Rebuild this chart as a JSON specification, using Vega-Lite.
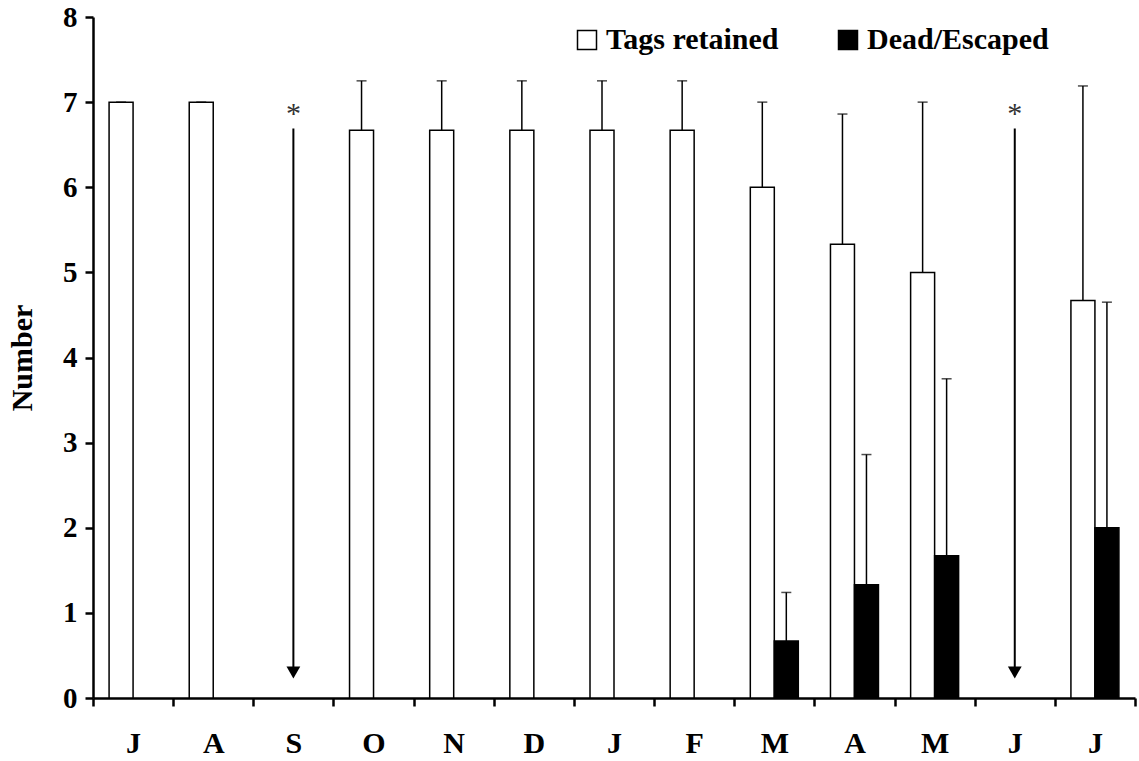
{
  "$schema": "https://vega.github.io/schema/vega-lite/v6.json",
  "width": 1042,
  "height": 681,
  "autosize": {"type": "none"},
  "padding": {"left": 93, "top": 17, "right": 4, "bottom": 63},
  "background": "white",
  "config": {
    "view": {"stroke": null},
    "font": "Liberation Serif",
    "axis": {
      "domainColor": "black",
      "domainWidth": 2.5,
      "tickColor": "black",
      "tickWidth": 2.5,
      "tickSize": 8,
      "labelColor": "black",
      "labelFont": "Liberation Serif",
      "labelFontSize": 29,
      "labelFontWeight": "bold",
      "titleFont": "Liberation Serif",
      "titleFontSize": 30,
      "titleFontWeight": "bold",
      "titleColor": "black",
      "grid": false
    }
  },
  "datasets": {
    "bars": [
      {"month": "Jul", "series": "Tags retained", "value": 7.0, "upper": 7.0},
      {"month": "Aug", "series": "Tags retained", "value": 7.0, "upper": 7.0},
      {"month": "Oct", "series": "Tags retained", "value": 6.67, "upper": 7.25},
      {"month": "Nov", "series": "Tags retained", "value": 6.67, "upper": 7.25},
      {"month": "Dec", "series": "Tags retained", "value": 6.67, "upper": 7.25},
      {"month": "Jan", "series": "Tags retained", "value": 6.67, "upper": 7.25},
      {"month": "Feb", "series": "Tags retained", "value": 6.67, "upper": 7.25},
      {"month": "Mar", "series": "Tags retained", "value": 6.0, "upper": 7.0},
      {"month": "Apr", "series": "Tags retained", "value": 5.33, "upper": 6.86},
      {"month": "May", "series": "Tags retained", "value": 5.0, "upper": 7.0},
      {"month": "Jul2", "series": "Tags retained", "value": 4.67, "upper": 7.19},
      {"month": "Mar", "series": "Dead/Escaped", "value": 0.67, "upper": 1.24},
      {"month": "Apr", "series": "Dead/Escaped", "value": 1.33, "upper": 2.86},
      {"month": "May", "series": "Dead/Escaped", "value": 1.67, "upper": 3.75},
      {"month": "Jul2", "series": "Dead/Escaped", "value": 2.0, "upper": 4.65}
    ],
    "arrows": [
      {"month": "Sep", "top": 6.69, "tip": 0.3, "star": 6.86},
      {"month": "Jun", "top": 6.69, "tip": 0.3, "star": 6.86}
    ]
  },
  "encoding": {
    "x": {
      "field": "month",
      "type": "nominal",
      "scale": {
        "domain": ["Jul", "Aug", "Sep", "Oct", "Nov", "Dec", "Jan", "Feb", "Mar", "Apr", "May", "Jun", "Jul2"],
        "paddingInner": 0,
        "paddingOuter": 0
      },
      "axis": {
        "title": null,
        "labelAngle": 0,
        "labelFontSize": 30,
        "labelPadding": 22,
        "tickBand": "extent",
        "labelExpr": "substring(datum.label, 0, 1)"
      }
    }
  },
  "layer": [
    {
      "data": {"name": "bars"},
      "mark": {"type": "bar", "stroke": "black", "strokeWidth": 1.5},
      "encoding": {
        "xOffset": {
          "field": "series",
          "type": "nominal",
          "scale": {"domain": ["Tags retained", "Dead/Escaped"], "paddingInner": 0, "paddingOuter": 0.67}
        },
        "y": {
          "field": "value",
          "type": "quantitative",
          "scale": {"domain": [0, 8], "nice": false},
          "axis": {"title": "Number", "values": [0, 1, 2, 3, 4, 5, 6, 7, 8], "format": "d", "labelPadding": 8, "titlePadding": 25}
        },
        "fill": {
          "field": "series",
          "type": "nominal",
          "scale": {"domain": ["Tags retained", "Dead/Escaped"], "range": ["white", "black"]},
          "legend": {
            "orient": "none",
            "legendX": 479,
            "legendY": 8,
            "direction": "horizontal",
            "title": null,
            "symbolType": "square",
            "symbolSize": 361,
            "symbolStrokeColor": "black",
            "symbolStrokeWidth": 1.5,
            "labelFont": "Liberation Serif",
            "labelFontSize": 30,
            "labelFontWeight": "bold",
            "labelColor": "black",
            "labelLimit": 400,
            "columnPadding": 54,
            "labelOffset": 4
          }
        }
      }
    },
    {
      "data": {"name": "bars"},
      "mark": {"type": "rule", "color": "black", "strokeWidth": 1.5},
      "encoding": {
        "xOffset": {"field": "series", "type": "nominal"},
        "y": {"field": "value", "type": "quantitative"},
        "y2": {"field": "upper"}
      }
    },
    {
      "data": {"name": "bars"},
      "mark": {"type": "tick", "color": "black", "size": 10, "thickness": 1.5},
      "encoding": {
        "xOffset": {"field": "series", "type": "nominal"},
        "y": {"field": "upper", "type": "quantitative"}
      }
    },
    {
      "data": {"name": "arrows"},
      "mark": {"type": "rule", "color": "black", "strokeWidth": 2},
      "encoding": {
        "y": {"field": "top", "type": "quantitative"},
        "y2": {"field": "tip"}
      }
    },
    {
      "data": {"name": "arrows"},
      "mark": {"type": "point", "shape": "triangle-down", "filled": true, "color": "black", "size": 190, "opacity": 1},
      "encoding": {
        "y": {"field": "tip", "type": "quantitative"}
      }
    },
    {
      "data": {"name": "arrows"},
      "mark": {"type": "text", "text": "*", "font": "Liberation Serif", "fontSize": 30, "color": "#333333", "baseline": "middle"},
      "encoding": {
        "y": {"field": "star", "type": "quantitative"}
      }
    }
  ]
}
